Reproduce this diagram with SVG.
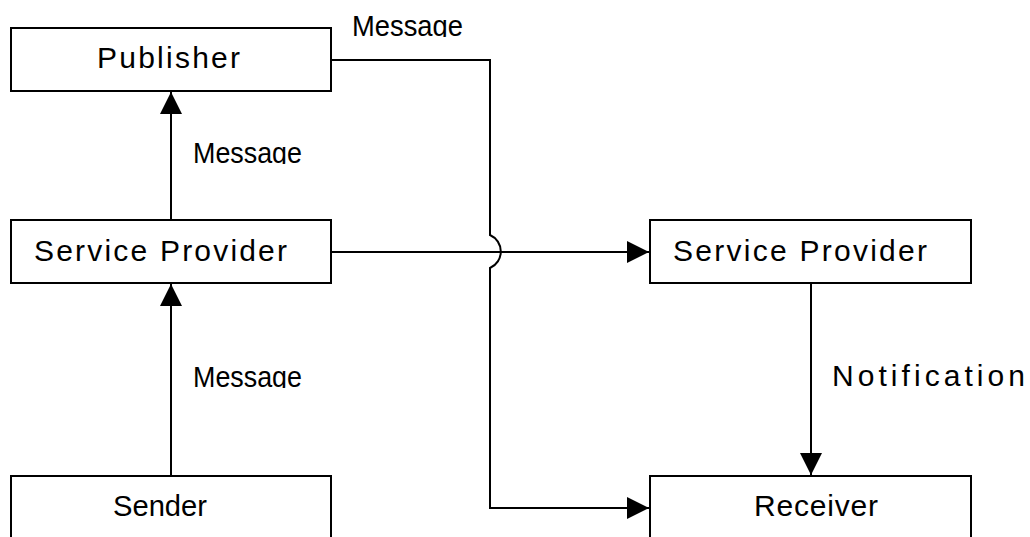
<svg xmlns="http://www.w3.org/2000/svg" width="1030" height="537" viewBox="0 0 1030 537">
<style>
.box{fill:#fff;stroke:#000;stroke-width:2}
.ln{fill:none;stroke:#000;stroke-width:2}
.t{font-family:"Liberation Sans",Arial,sans-serif;font-size:30px;fill:#000}
</style>
<defs>
<marker id="ah" viewBox="0 0 22 22" refX="22" refY="11" markerWidth="22" markerHeight="22" markerUnits="userSpaceOnUse" orient="auto">
<path d="M0,0 L22,11 L0,22 Z" fill="#000"/>
</marker>
<clipPath id="c1"><rect x="340" y="0" width="140" height="37"/></clipPath>
<clipPath id="c2"><rect x="180" y="130" width="140" height="34"/></clipPath>
<clipPath id="c3"><rect x="180" y="354" width="140" height="34"/></clipPath>
</defs>
<rect width="1030" height="537" fill="#fff"/>
<g id="connectors">
<line class="ln" x1="171" y1="220" x2="171" y2="92" marker-end="url(#ah)"/>
<line class="ln" x1="171" y1="476" x2="171" y2="284" marker-end="url(#ah)"/>
<line class="ln" x1="331" y1="252" x2="649" y2="252" marker-end="url(#ah)"/>
<path class="ln" d="M331,60 H490 V235 A18 18 0 0 1 490 268 V508 H649" marker-end="url(#ah)"/>
<line class="ln" x1="811" y1="283" x2="811" y2="475" marker-end="url(#ah)"/>
<text class="t" x="352" y="36" textLength="111" lengthAdjust="spacingAndGlyphs" clip-path="url(#c1)">Message</text>
<text class="t" x="193" y="163" textLength="109" lengthAdjust="spacingAndGlyphs" clip-path="url(#c2)">Message</text>
<text class="t" x="193" y="387" textLength="109" lengthAdjust="spacingAndGlyphs" clip-path="url(#c3)">Message</text>
<text class="t" x="832" y="386" textLength="193" lengthAdjust="spacing">Notification</text>
</g>
<g id="publisher">
<rect class="box" x="11" y="28" width="320" height="63"/>
<text class="t" x="97" y="68" textLength="143" lengthAdjust="spacing">Publisher</text>
</g>
<g id="sp-left">
<rect class="box" x="11" y="220" width="320" height="63"/>
<text class="t" x="34" y="261" textLength="253" lengthAdjust="spacing">Service Provider</text>
</g>
<g id="sp-right">
<rect class="box" x="650" y="220" width="321" height="63"/>
<text class="t" x="673" y="261" textLength="254" lengthAdjust="spacing">Service Provider</text>
</g>
<g id="sender">
<rect class="box" x="11" y="476" width="320" height="80"/>
<text class="t" x="113" y="516" textLength="94" lengthAdjust="spacingAndGlyphs">Sender</text>
</g>
<g id="receiver">
<rect class="box" x="650" y="476" width="321" height="80"/>
<text class="t" x="754" y="516" textLength="124" lengthAdjust="spacing">Receiver</text>
</g>
</svg>
